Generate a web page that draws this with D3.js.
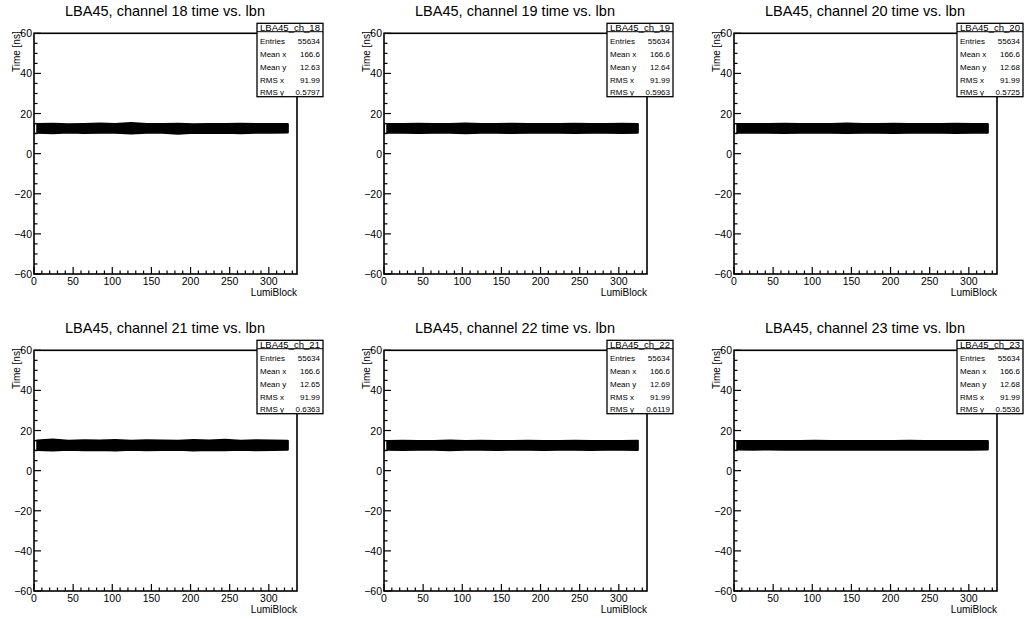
<!DOCTYPE html>
<html lang="en">
<head>
  <meta charset="UTF-8">
  <title>LBA45 time vs lbn</title>
  <style>
    body { margin: 0; background: #fff; }
    svg text { font-family: "Liberation Sans", Arial, Helvetica, sans-serif; fill: #000; }
  </style>
</head>
<body>
  <svg id="canvas" width="1029" height="619"></svg>
  <script src="https://d3js.org/d3.v7.min.js"></script>
  <script>
    // chart values
    var channels = [18, 19, 20, 21, 22, 23];
    var entries = [55634, 55634, 55634, 55634, 55634, 55634];
    var meanX = ["166.6", "166.6", "166.6", "166.6", "166.6", "166.6"];
    var meanY = ["12.63", "12.64", "12.68", "12.65", "12.69", "12.68"];
    var rmsX = ["91.99", "91.99", "91.99", "91.99", "91.99", "91.99"];
    var rmsY = ["0.5797", "0.5963", "0.5725", "0.6363", "0.6119", "0.5536"];

    var xTicks = [0, 50, 100, 150, 200, 250, 300];
    var yTicks = [-60, -40, -20, 0, 20, 40, 60];

    // band edges sampled along lumi block
    var lumi = [4, 24, 44, 64, 84, 104, 124, 144, 164, 184, 204, 224, 244, 264, 284, 304, 324];
    var upper = [
      [14.6, 14.8, 14.5, 14.7, 14.9, 14.6, 15.2, 14.7, 14.6, 14.8, 14.5, 14.7, 14.6, 14.8, 14.6, 14.7, 14.6],
      [14.7, 14.6, 14.8, 14.6, 14.7, 14.9, 14.6, 14.7, 14.8, 14.6, 14.7, 14.6, 14.8, 14.7, 14.6, 14.8, 14.6],
      [14.6, 14.7, 14.6, 14.8, 14.6, 14.7, 14.6, 14.9, 14.7, 14.6, 14.8, 14.6, 14.7, 14.6, 14.8, 14.6, 14.7],
      [14.9, 15.4, 14.8, 15.0, 14.9, 15.1, 14.8, 15.0, 14.9, 14.8, 15.1, 14.9, 15.3, 14.8, 15.0, 14.9, 14.8],
      [14.7, 14.8, 14.6, 14.7, 14.9, 14.6, 14.8, 14.7, 14.6, 14.8, 14.7, 14.6, 14.8, 14.7, 14.6, 14.7, 14.8],
      [14.6, 14.7, 14.6, 14.7, 14.6, 14.8, 14.6, 14.7, 14.6, 14.7, 14.6, 14.8, 14.6, 14.7, 14.6, 14.7, 14.6]
    ];
    var lower = [
      [10.6, 10.3, 10.7, 10.4, 10.6, 10.5, 10.2, 10.6, 10.5, 10.1, 10.6, 10.4, 10.6, 10.3, 10.5, 10.6, 10.7],
      [10.5, 10.6, 10.4, 10.6, 10.5, 10.3, 10.6, 10.5, 10.4, 10.6, 10.5, 10.6, 10.4, 10.5, 10.6, 10.4, 10.6],
      [10.6, 10.5, 10.6, 10.4, 10.6, 10.5, 10.6, 10.4, 10.5, 10.6, 10.4, 10.6, 10.5, 10.6, 10.4, 10.6, 10.5],
      [10.4, 10.2, 10.5, 10.3, 10.4, 10.2, 10.5, 10.3, 10.4, 10.5, 10.2, 10.4, 10.3, 10.5, 10.3, 10.4, 10.5],
      [10.5, 10.4, 10.6, 10.5, 10.3, 10.6, 10.5, 10.4, 10.6, 10.5, 10.4, 10.6, 10.5, 10.4, 10.6, 10.5, 10.4],
      [10.7, 10.6, 10.7, 10.6, 10.7, 10.5, 10.7, 10.6, 10.7, 10.6, 10.7, 10.5, 10.7, 10.6, 10.7, 10.6, 10.7]
    ];
    // first bin drawn hollow
    var firstLumi = [0.6, 3.6];
    var firstTime = [10.2, 14.9];

    var svg = d3.select("#canvas");
    var colLeft = [34, 384, 734];
    var rowTop = [33.3, 350.3];
    var fw = 263, fh = 240.7;

    var x = d3.scaleLinear().domain([0, 336]).range([0, fw]);
    var y = d3.scaleLinear().domain([-60, 60]).range([fh, 0]);

    channels.forEach(function (ch, i) {
      var left = colLeft[i % 3], top = rowTop[Math.floor(i / 3)];
      var g = svg.append("g").attr("transform", "translate(" + left + "," + top + ")");

      // title
      svg.append("text")
        .attr("x", left + 131).attr("y", top - 17.5)
        .attr("text-anchor", "middle")
        .style("font-size", "14.5px")
        .text("LBA45, channel " + ch + " time vs. lbn");

      // band
      var pts = lumi.map(function (l, k) { return [x(l), y(upper[i][k])]; })
        .concat(lumi.slice().reverse().map(function (l, k) {
          return [x(l), y(lower[i][lumi.length - 1 - k])];
        }));
      g.append("path")
        .attr("d", d3.line().curve(d3.curveLinearClosed)(pts))
        .attr("fill", "#000").attr("stroke", "#000")
        .attr("stroke-width", 2.5).attr("stroke-linejoin", "round");

      g.append("rect")
        .attr("x", x(firstLumi[0])).attr("y", y(firstTime[1]))
        .attr("width", x(firstLumi[1]) - x(firstLumi[0]))
        .attr("height", y(firstTime[0]) - y(firstTime[1]))
        .attr("fill", "#fff").attr("stroke", "#000").attr("stroke-width", 1);

      // axes ticks
      var xMinor = d3.range(0, 336, 10);
      g.selectAll(".xt").data(xMinor).enter().append("line")
        .attr("x1", function (d) { return x(d); }).attr("x2", function (d) { return x(d); })
        .attr("y1", fh).attr("y2", function (d) { return d % 50 === 0 ? fh - 7 : fh - 3.5; })
        .attr("stroke", "#000").attr("stroke-width", 1.2);
      var yMinor = d3.range(-60, 61, 5);
      g.selectAll(".yt").data(yMinor).enter().append("line")
        .attr("y1", function (d) { return y(d); }).attr("y2", function (d) { return y(d); })
        .attr("x1", 0).attr("x2", function (d) { return d % 20 === 0 ? 7 : 3.5; })
        .attr("stroke", "#000").attr("stroke-width", 1.2);

      g.selectAll(".xl").data(xTicks).enter().append("text")
        .attr("x", function (d) { return x(d); }).attr("y", fh + 11)
        .attr("text-anchor", "middle").style("font-size", "10.5px")
        .text(function (d) { return d; });
      g.selectAll(".yl").data(yTicks).enter().append("text")
        .attr("x", -2).attr("y", function (d) { return y(d) + 4; })
        .attr("text-anchor", "end").style("font-size", "10.5px")
        .text(function (d) { return d < 0 ? "\u2212" + Math.abs(d) : d; });

      // frame
      g.append("rect").attr("width", fw).attr("height", fh)
        .attr("fill", "none").attr("stroke", "#000").attr("stroke-width", 1.6);

      // axis titles
      g.append("text")
        .attr("x", fw).attr("y", fh + 22)
        .attr("text-anchor", "end").style("font-size", "10px")
        .text("LumiBlock");
      g.append("text")
        .attr("transform", "translate(-14,-2)rotate(-90)")
        .attr("text-anchor", "end").style("font-size", "10px")
        .text("Time [ns]");

      // stats box
      var sb = svg.append("g").attr("transform", "translate(" + (left + 223) + "," + (top - 10) + ")");
      var bw = 66, bh = 73.4;
      sb.append("rect").attr("width", bw).attr("height", bh)
        .attr("fill", "#fff").attr("stroke", "#000").attr("stroke-width", 1.3);
      sb.append("line").attr("x1", 0).attr("x2", bw).attr("y1", 8.4).attr("y2", 8.4)
        .attr("stroke", "#000").attr("stroke-width", 1);
      sb.append("text").attr("x", bw / 2).attr("y", 7.6)
        .attr("text-anchor", "middle").style("font-size", "9.5px")
        .attr("textLength", 60).attr("lengthAdjust", "spacingAndGlyphs")
        .text("LBA45_ch_" + ch);
      var rows = [["Entries", entries[i]], ["Mean x", meanX[i]], ["Mean y", meanY[i]],
                  ["RMS x", rmsX[i]], ["RMS y", rmsY[i]]];
      rows.forEach(function (r, k) {
        var by = 21 + k * 12.8;
        sb.append("text").attr("x", 3).attr("y", by).style("font-size", "8px").text(r[0]);
        sb.append("text").attr("x", bw - 3).attr("y", by).attr("text-anchor", "end")
          .style("font-size", "8px").text(r[1]);
      });
    });
  </script>
</body>
</html>
